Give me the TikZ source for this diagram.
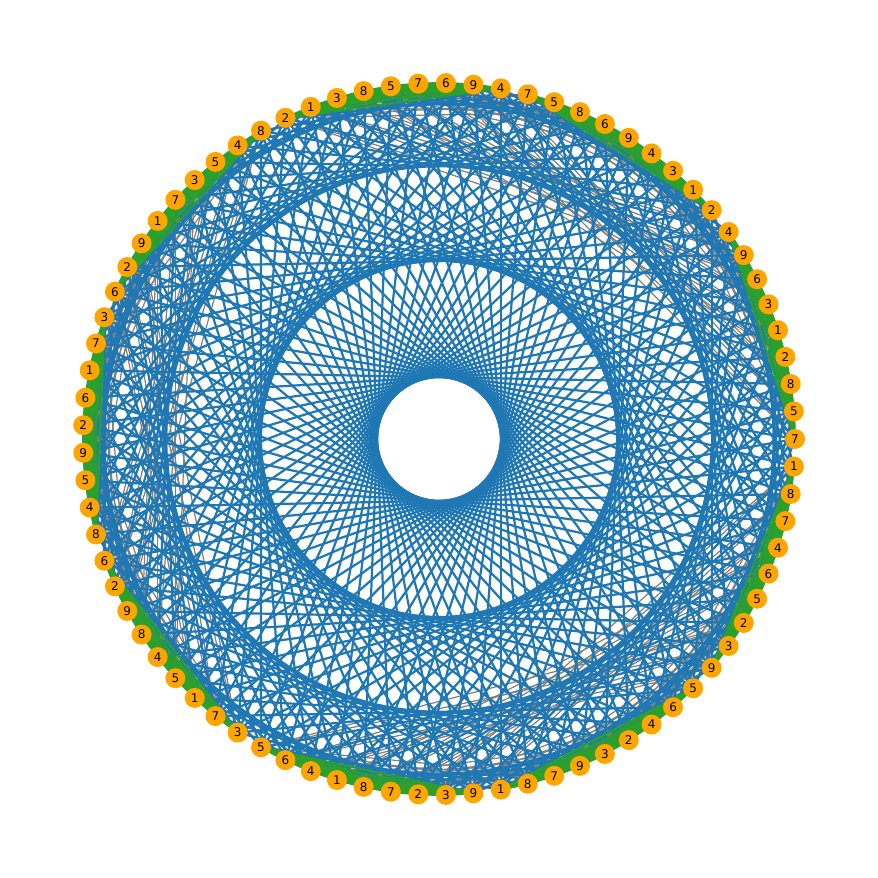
\documentclass[tikz,border=0pt]{standalone}
\usepackage{fontspec}
\setmainfont{DejaVu Sans}
\definecolor{mplblue}{HTML}{1F77B4}
\definecolor{mplgreen}{HTML}{2CA02C}
\definecolor{mplgray}{HTML}{7F7F7F}
\definecolor{mplorange}{HTML}{FFA500}
\pgfdeclarelayer{background}
\pgfsetlayers{background,main}
\tikzset{
  cell/.style={circle,fill=mplorange,minimum size=20pt,inner sep=0pt,font=\fontsize{12}{12}\selectfont},
  rowedge/.style={draw=mplgreen,line width=2.2pt},
  coledge/.style={draw=mplblue,line width=2.2pt},
  boxedge/.style={draw=mplgray,line width=1.2pt}
}
\begin{document}
\begin{tikzpicture}[x=1pt,y=1pt]
\useasboundingbox (-439,-439) rectangle (439,439);
\foreach \l [count=\k from 0] in {7,5,8,2,1,3,6,9,4, 2,1,3,4,9,6,8,5,7, 4,9,6,7,5,8,3,1,2, 8,4,5,3,7,1,9,2,6, 3,7,1,6,2,9,5,4,8, 6,2,9,8,4,5,1,7,3, 5,6,4,1,8,7,2,3,9, 1,8,7,9,3,2,4,6,5, 9,3,2,5,6,4,7,8,1}
  \node[cell] (n\k) at ({\k*(360/81)}:356) {\l};
\begin{pgfonlayer}{background}
% box edges (gray)
\foreach \br in {0,1,2}{
  \foreach \bc in {0,1,2}{
    \foreach \ri in {0,1}{
      \pgfmathtruncatemacro\rn{\ri+1}
      \foreach \rj in {\rn,...,2}{
        \foreach \ci in {0,1,2}{
          \foreach \cj in {0,1,2}{
            \ifnum\ci=\cj\else
              \pgfmathtruncatemacro\u{9*(3*\br+\ri)+3*\bc+\ci}
              \pgfmathtruncatemacro\v{9*(3*\br+\rj)+3*\bc+\cj}
              \draw[boxedge] (n\u.center) -- (n\v.center);
            \fi
          }
        }
      }
    }
  }
}
% column edges (blue)
\foreach \c in {0,...,8}{
  \foreach \a in {0,...,7}{
    \pgfmathtruncatemacro\an{\a+1}
    \foreach \b in {\an,...,8}{
      \pgfmathtruncatemacro\u{9*\a+\c}
      \pgfmathtruncatemacro\v{9*\b+\c}
      \draw[coledge] (n\u.center) -- (n\v.center);
    }
  }
}
% row edges (green)
\foreach \r in {0,...,8}{
  \foreach \a in {0,...,7}{
    \pgfmathtruncatemacro\an{\a+1}
    \foreach \b in {\an,...,8}{
      \pgfmathtruncatemacro\u{9*\r+\a}
      \pgfmathtruncatemacro\v{9*\r+\b}
      \draw[rowedge] (n\u.center) -- (n\v.center);
    }
  }
}
\end{pgfonlayer}
\end{tikzpicture}
\end{document}
